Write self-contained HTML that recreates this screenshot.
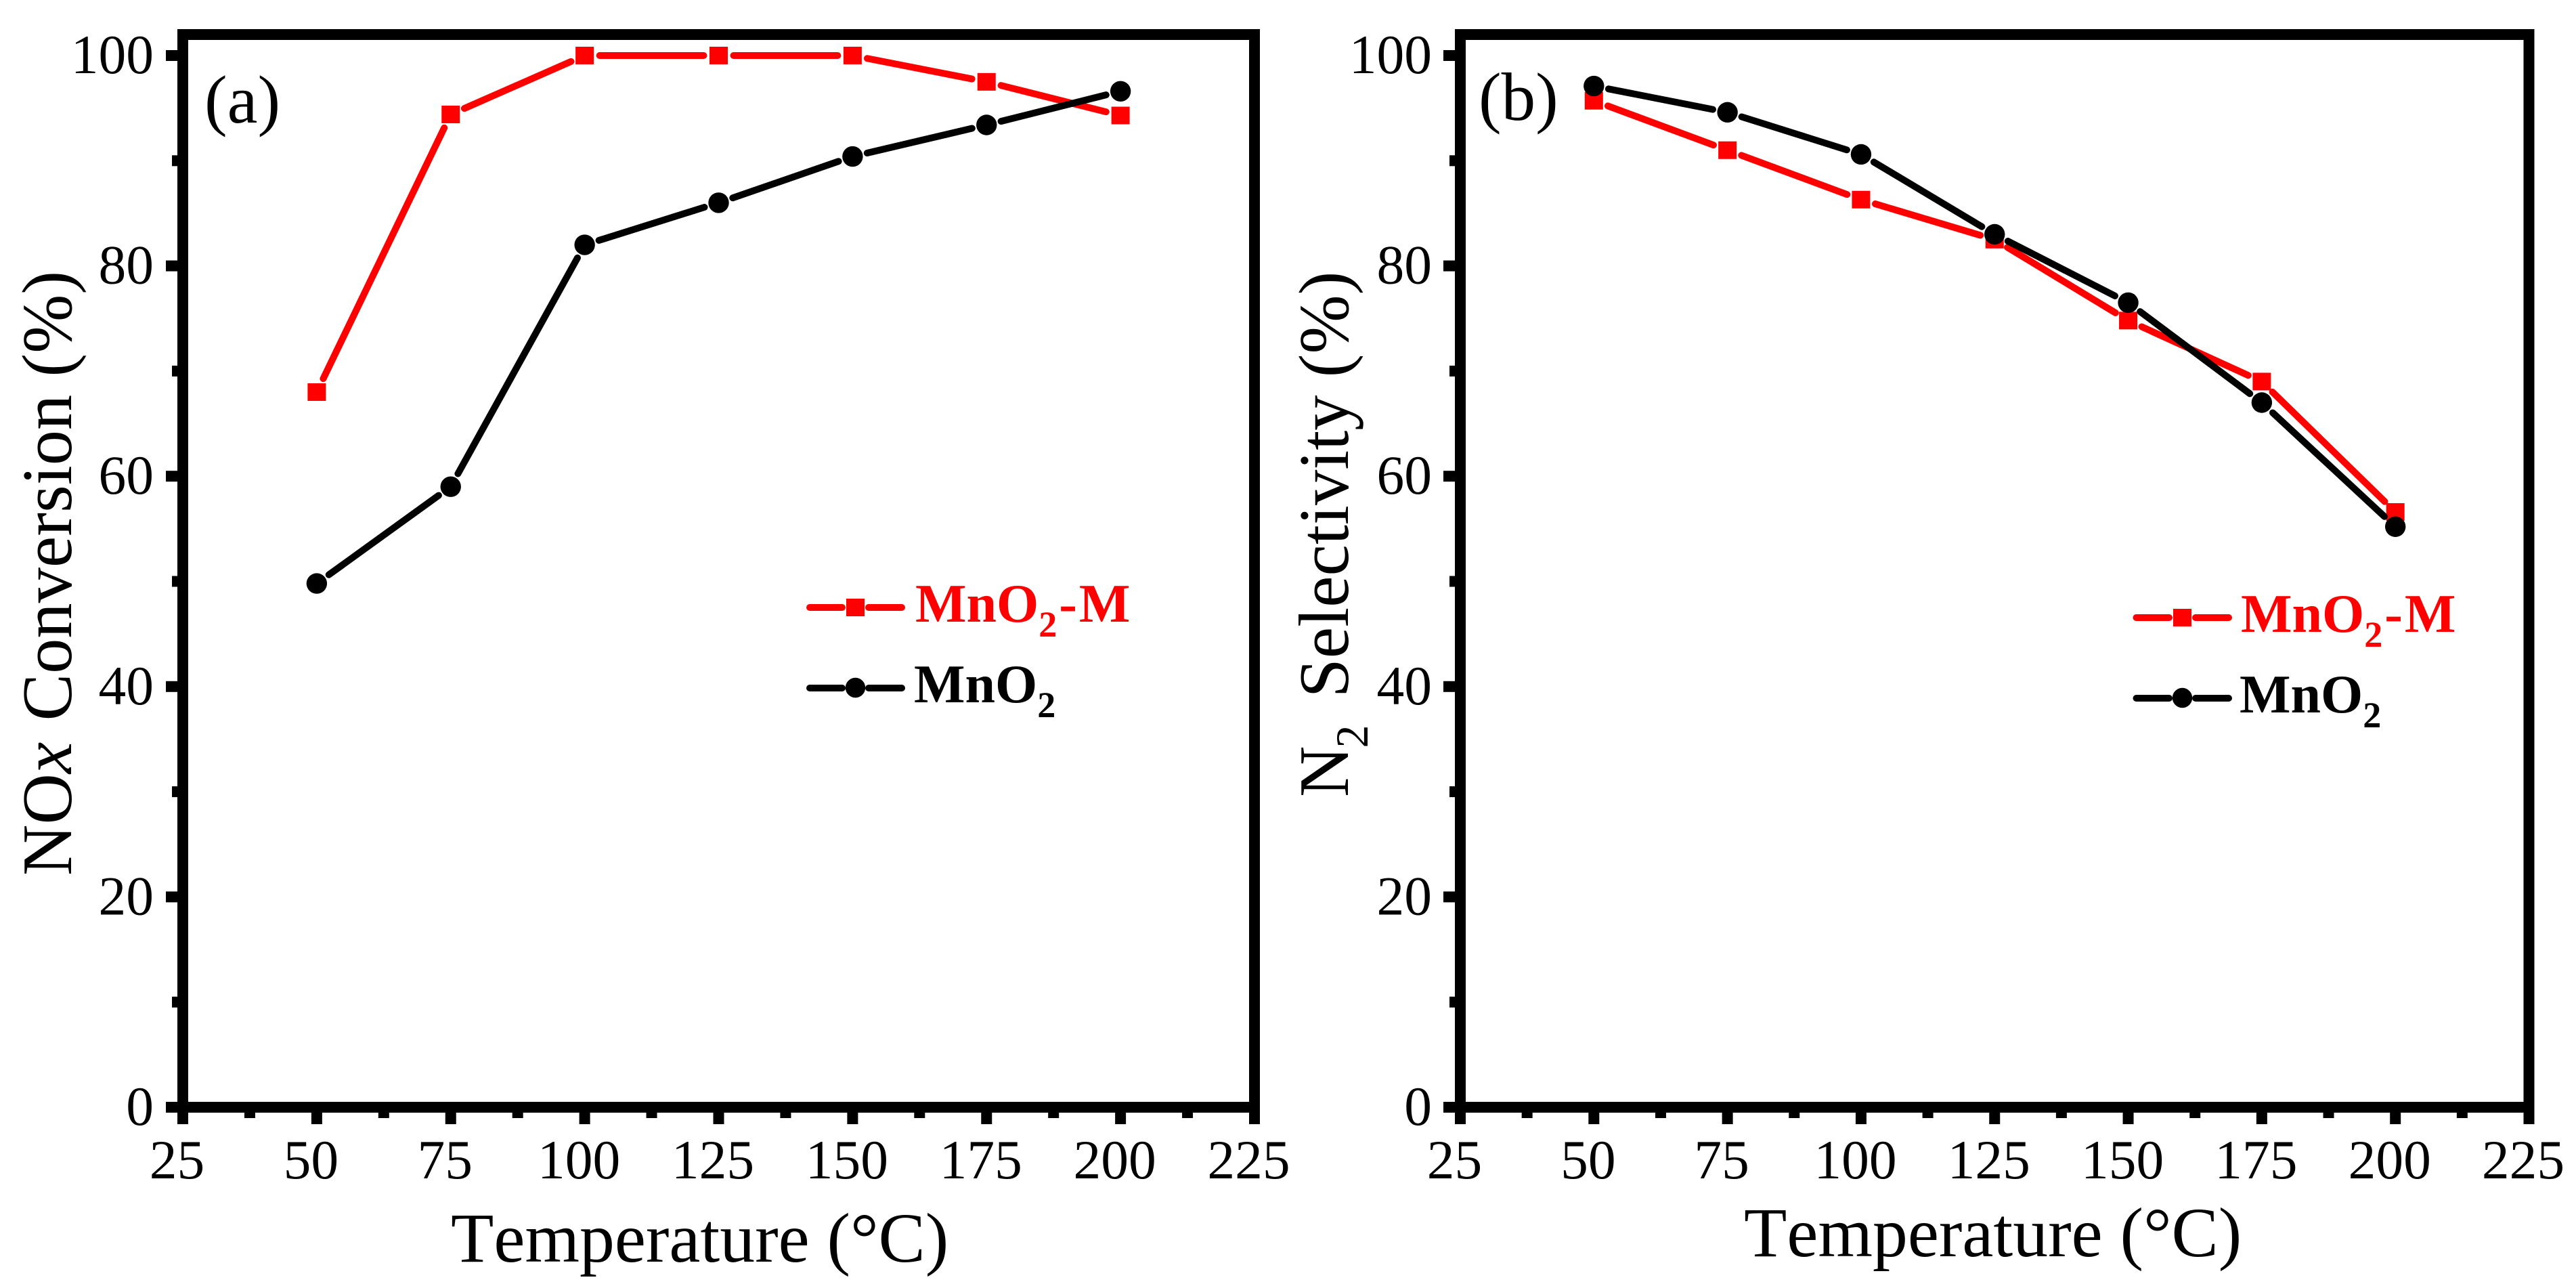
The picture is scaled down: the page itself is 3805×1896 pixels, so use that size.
<!DOCTYPE html>
<html lang="en">
<head>
<meta charset="utf-8">
<title>NOx conversion and N2 selectivity</title>
<style>
html,body{margin:0;padding:0;background:#fff;width:3805px;height:1896px;overflow:hidden}
svg{display:block}
text{font-family:"Liberation Serif","Times New Roman",serif;fill:#000;font-kerning:none}
.tick{font-size:81.5px}
.title{font-size:103.7px}
.panel{font-size:101px}
.leg{font-size:80px;font-weight:bold}
.sub{font-size:54px}
</style>
</head>
<body>
<svg id="chart" xmlns="http://www.w3.org/2000/svg" width="3805" height="1896" viewBox="0 0 3805 1896">
  <rect width="3805" height="1896" fill="#fff"/>

  <g id="panel-a"></g>
  <g id="panel-b"></g>

  <text class="panel" x="302" y="181">(a)</text>
  <text class="panel" x="2184" y="177">(b)</text>

  <text class="title" x="666" y="1863">Temperature (°C)</text>
  <text class="title" x="2576" y="1855">Temperature (°C)</text>

  <text class="title" style="font-size:104.5px" transform="translate(105,1293) rotate(-90)">NO<tspan font-style="italic">x</tspan><tspan dx="5"> Conversion (%)</tspan></text>
  <text class="title" style="font-size:104.5px" transform="translate(1991,1177) rotate(-90)">N<tspan style="font-size:68px" dx="-3" dy="29">2</tspan><tspan dx="14" dy="-29"> Selectivity (%)</tspan></text>

  <g>
    <g>
      <line x1="1196" y1="897" x2="1244" y2="897" stroke="#f00" stroke-width="10" stroke-linecap="round"/>
      <line x1="1283" y1="897" x2="1332" y2="897" stroke="#f00" stroke-width="10" stroke-linecap="round"/>
      <rect x="1250" y="884" width="27" height="26" fill="#f00"/>
      <text class="leg" x="1352" y="918" style="fill:#f00">MnO<tspan class="sub" dy="22" style="fill:#f00">2</tspan><tspan dy="-22" dx="3" style="fill:#f00">-</tspan><tspan dx="3" style="fill:#f00">M</tspan></text>
    </g>
    <g>
      <line x1="1196" y1="1016" x2="1244" y2="1016" stroke="#000" stroke-width="10" stroke-linecap="round"/>
      <line x1="1283" y1="1016" x2="1332" y2="1016" stroke="#000" stroke-width="10" stroke-linecap="round"/>
      <circle cx="1263.5" cy="1015.5" r="14.7" fill="#000"/>
      <text class="leg" x="1350" y="1037">MnO<tspan class="sub" dy="22">2</tspan></text>
    </g>
  </g>

  <g>
    <g>
      <line x1="3155.5" y1="912" x2="3204" y2="912" stroke="#f00" stroke-width="10" stroke-linecap="round"/>
      <line x1="3243" y1="912" x2="3292" y2="912" stroke="#f00" stroke-width="10" stroke-linecap="round"/>
      <rect x="3210" y="899" width="27" height="26" fill="#f00"/>
      <text class="leg" x="3310" y="933" style="fill:#f00">MnO<tspan class="sub" dy="22" style="fill:#f00">2</tspan><tspan dy="-22" dx="3" style="fill:#f00">-</tspan><tspan dx="3" style="fill:#f00">M</tspan></text>
    </g>
    <g>
      <line x1="3155.5" y1="1031" x2="3204" y2="1031" stroke="#000" stroke-width="10" stroke-linecap="round"/>
      <line x1="3243" y1="1031" x2="3292" y2="1031" stroke="#000" stroke-width="10" stroke-linecap="round"/>
      <circle cx="3223.5" cy="1030.5" r="14.7" fill="#000"/>
      <text class="leg" x="3308" y="1052">MnO<tspan class="sub" dy="22">2</tspan></text>
    </g>
  </g>
</svg>

<script>
// Chart data
const temperatures = [50, 75, 100, 125, 150, 175, 200];
const conversionMnO2M = [68, 94.4, 100, 100, 100, 97.5, 94.3];
const conversionMnO2 = [49.8, 59, 82, 86, 90.4, 93.4, 96.6];
const selectivityMnO2M = [95.7, 91, 86.3, 82.5, 74.8, 69, 56.6];
const selectivityMnO2 = [97.1, 94.6, 90.6, 83, 76.5, 67, 55.2];
const xMajorTicks = [25, 50, 75, 100, 125, 150, 175, 200, 225];
const xMinorTicks = [37.5, 62.5, 87.5, 112.5, 137.5, 162.5, 187.5, 212.5];
const yMajorTicks = [0, 20, 40, 60, 80, 100];
const yMinorTicks = [10, 30, 50, 70, 90];

const NS = 'http://www.w3.org/2000/svg';
const LINE_GAP = 22;
const yScale = v => 1635 - (v / 100) * 1553;
const X_MIN = 25, X_MAX = 225, Y_TOP = 51, Y_BOTTOM = 1635;

function make(tag, parent, attrs, text) {
  const el = document.createElementNS(NS, tag);
  for (const k in attrs) el.setAttribute(k, attrs[k]);
  if (text !== undefined) el.textContent = text;
  parent.appendChild(el);
  return el;
}

function drawPanel(group, prefix, pxLeft, pxRight, labelRight, seriesRed, seriesBlack) {
  const xScale = v => pxLeft + (v - X_MIN) / (X_MAX - X_MIN) * (pxRight - pxLeft);

  const frame = make('rect', group, {x: pxLeft, y: Y_TOP, width: pxRight - pxLeft, height: Y_BOTTOM - Y_TOP, fill: 'none', stroke: '#000', 'stroke-width': 16});
  
  

  yMajorTicks.forEach(v => {
    const t = make('rect', group, {x: pxLeft - 25, y: yScale(v) - 8, width: 20, height: 16, fill: '#000'});
    
    
    const l = make('text', group, {x: labelRight, y: yScale(v) + 26, 'text-anchor': 'end', class: 'tick'}, String(v));
    
    
  });
  yMinorTicks.forEach(v => {
    const t = make('rect', group, {x: pxLeft - 16, y: yScale(v) - 8, width: 12, height: 16, fill: '#000'});
    
    
  });
  xMajorTicks.forEach(v => {
    const t = make('rect', group, {x: xScale(v) - 8, y: Y_BOTTOM + 4, width: 16, height: 21, fill: '#000'});
    
    
    const l = make('text', group, {x: xScale(v) - 8.5, y: 1740, 'text-anchor': 'middle', class: 'tick'}, String(v));
    
    
  });
  xMinorTicks.forEach(v => {
    const t = make('rect', group, {x: xScale(v) - 8, y: Y_BOTTOM + 4, width: 16, height: 12, fill: '#000'});
    
    
  });

  function drawSeries(values, color, seriesName, marker) {
    const g = make('g', group, {});
    
    
    for (let i = 0; i < values.length - 1; i++) {
      const ax = xScale(temperatures[i]), ay = yScale(values[i]);
      const bx = xScale(temperatures[i + 1]), by = yScale(values[i + 1]);
      const len = Math.hypot(bx - ax, by - ay);
      if (len <= LINE_GAP * 2) continue;
      const ux = (bx - ax) / len, uy = (by - ay) / len;
      const seg = make('line', g, {
        x1: ax + ux * LINE_GAP, y1: ay + uy * LINE_GAP,
        x2: bx - ux * LINE_GAP, y2: by - uy * LINE_GAP,
        stroke: color, 'stroke-width': 10, 'stroke-linecap': 'round'
      });
      
      
    }
    values.forEach((v, i) => {
      const cx = xScale(temperatures[i]), cy = yScale(v);
      const m = marker === 'square'
        ? make('rect', g, {x: cx - 13.5, y: cy - 13, width: 27, height: 26, fill: color})
        : make('circle', g, {cx: cx, cy: cy, r: 15.2, fill: color});
      
      
    });
  }
  drawSeries(seriesRed, '#f00', 'mno2-m', 'square');
  drawSeries(seriesBlack, '#000', 'mno2', 'circle');
}

drawPanel(document.getElementById('panel-a'), 'a', 270, 1853, 227, conversionMnO2M, conversionMnO2);
drawPanel(document.getElementById('panel-b'), 'b', 2157, 3735.5, 2115, selectivityMnO2M, selectivityMnO2);
</script>
</body>
</html>
